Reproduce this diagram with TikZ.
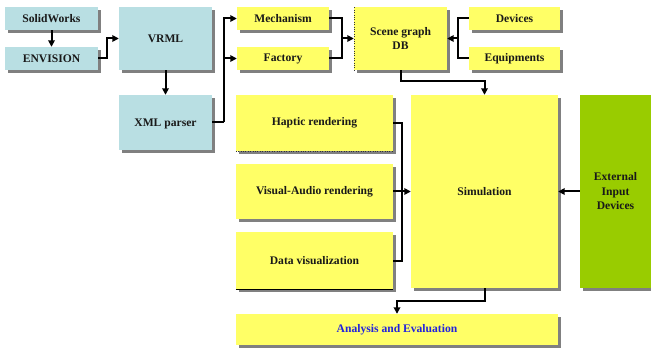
\documentclass[tikz,border=0pt]{standalone}
\usepackage{fontspec}
\setmainfont{Liberation Serif}
\usetikzlibrary{shadows,arrows.meta,calc}
\definecolor{bxyellow}{HTML}{FFFF66}
\definecolor{bxblue}{HTML}{B9DFE3}
\definecolor{bxgreen}{HTML}{99CC00}
\definecolor{shgray}{HTML}{808080}
\definecolor{anablue}{HTML}{2222DD}
\tikzset{
  box/.style={inner sep=0pt, align=center, font=\fontsize{11.6}{14.5}\selectfont\bfseries, text=black!90,
    drop shadow={shadow xshift=3pt, shadow yshift=-3pt, fill=shgray, opacity=1}},
  ybox/.style={box, fill=bxyellow},
  bbox/.style={box, fill=bxblue},
  gbox/.style={box, fill=bxgreen},
  conn/.style={line width=2pt, black},
  arr/.style={conn, -{Triangle[length=6.5pt,width=6.5pt]}},
}
\begin{document}
\begin{tikzpicture}[x=1pt,y=-1pt]
\useasboundingbox[fill=white] (0,0) rectangle (651,350);
% left blue column
\node[bbox, minimum width=93pt, minimum height=23pt] (sw) at (51.5,18.5) {SolidWorks};
\node[bbox, minimum width=93pt, minimum height=23pt] (env) at (51.5,58.5) {ENVISION};
\node[bbox, minimum width=93pt, minimum height=63pt] (vrml) at (165.5,38.5) {VRML};
\node[bbox, minimum width=93pt, minimum height=55pt, text depth=-8pt] (xml) at (165.5,122.5) {XML parser};
% top row
\node[ybox, minimum width=92pt, minimum height=23pt] (mech) at (283,18.5) {Mechanism};
\node[ybox, minimum width=92pt, minimum height=23pt] (fact) at (283,58.5) {Factory};
\node[ybox, minimum width=93pt, minimum height=63pt] (sg) at (400.5,38.5) {Scene graph\\DB};
\draw[dotted, black!80] (sg.south west) -- (sg.north west);
\node[ybox, minimum width=91pt, minimum height=23pt] (dev) at (514.5,18.5) {Devices};
\node[ybox, minimum width=91pt, minimum height=23pt] (equ) at (514.5,58.5) {Equipments};
% rendering column
\node[ybox, minimum width=157pt, minimum height=56pt] (hap) at (314.5,123) {Haptic rendering};
\draw[dotted, black!80] (hap.south west) -- (hap.south east);
\node[ybox, minimum width=157pt, minimum height=55pt] (vis) at (314.5,191.5) {Visual-Audio rendering};
\node[ybox, minimum width=157pt, minimum height=57pt] (dat) at (314.5,260.5) {Data visualization};
\draw[black, line width=0.8pt] (dat.south west) -- (dat.south east);
% simulation etc.
\node[ybox, minimum width=147pt, minimum height=193pt] (sim) at (484.5,191.5) {Simulation};
\node[gbox, minimum width=71pt, minimum height=193pt] (ext) at (615.5,191.5) {External\\Input\\Devices};
\node[ybox, minimum width=322pt, minimum height=31pt, text=anablue] (ana) at (397,329.5) {Analysis and Evaluation};
% connectors
\draw[arr] (sw.south) -- (env.north);
\coordinate (j0) at ($(env.east)+(9,0)$);
\draw[arr] (env.east) -- (j0) |- (vrml.west);
\draw[arr] (vrml.south) -- (xml.north);
\coordinate (j1) at ($(xml.east)+(12,0)$);
\draw[conn] (xml.east) -- (j1);
\draw[arr] (j1) |- (mech.west);
\draw[arr] (j1) |- (fact.west);
\coordinate (j2) at (342,38.5);
\draw[conn] (mech.east) -| (j2);
\draw[conn] (fact.east) -| (j2);
\draw[arr] (j2) -- (sg.west);
\coordinate (j3) at (458,38.5);
\draw[conn] (dev.west) -| (j3);
\draw[conn] (equ.west) -| (j3);
\draw[arr] (j3) -- (sg.east);
\coordinate (j5) at ($(sg.south)+(0,11)$);
\draw[arr] (sg.south) -- (j5) -| (sim.north);
\coordinate (j4) at (402,191.5);
\draw[conn] (hap.east) -| (j4);
\draw[conn] (dat.east) -| (j4);
\draw[arr] (vis.east) -- (sim.west);
\draw[arr] (ext.west) -- (sim.east);
\coordinate (j6) at ($(sim.south)+(0,13)$);
\draw[arr] (sim.south) -- (j6) -| (ana.north);
\end{tikzpicture}
\end{document}
